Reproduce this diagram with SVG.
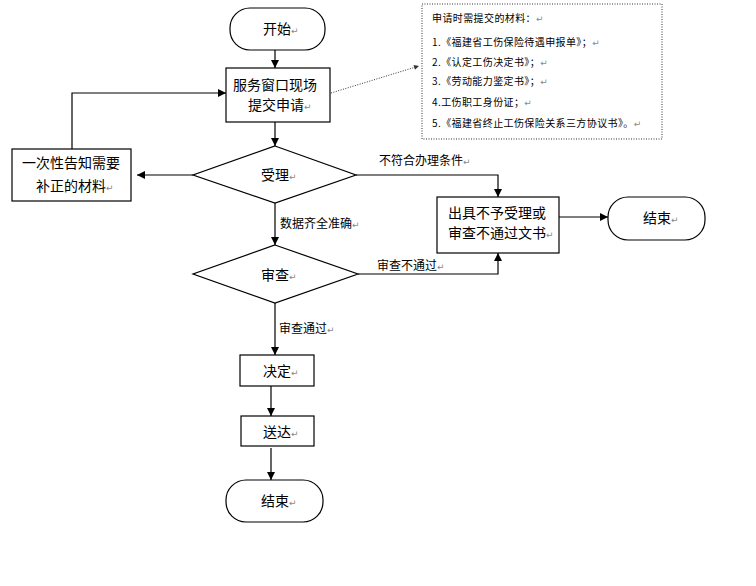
<svg xmlns="http://www.w3.org/2000/svg" width="756" height="586" viewBox="0 0 756 586">
<defs>
<marker id="ah" viewBox="0 0 10 10" refX="10" refY="5" markerWidth="9" markerHeight="8" markerUnits="userSpaceOnUse" orient="auto">
<path d="M0,0 L10,5 L0,10 z" fill="#000"/>
</marker>
<marker id="ahs" viewBox="0 0 10 10" refX="10" refY="5" markerWidth="6" markerHeight="5" markerUnits="userSpaceOnUse" orient="auto">
<path d="M0,0 L10,5 L0,10 z" fill="#333"/>
</marker>
</defs>
<style>
.shape{fill:#fff;stroke:#000;stroke-width:1.2}
.t{font-family:"Noto Sans CJK SC","Noto Sans CJK JP",sans-serif;font-size:14px;fill:#000}
.l{font-family:"Noto Sans CJK SC","Noto Sans CJK JP",sans-serif;font-size:12px;fill:#000}
.s{font-family:"Noto Sans CJK SC","Noto Sans CJK JP",sans-serif;font-size:10px;letter-spacing:0.4px;fill:#000}
.r{font-family:"DejaVu Sans",sans-serif;font-size:9px;letter-spacing:0;fill:#888}
.c{fill:none;stroke:#000;stroke-width:1.2}
.d{fill:none;stroke:#333;stroke-width:1;stroke-dasharray:1,1.5}
</style>
<rect width="756" height="586" fill="#fff"/>
<g id="connectors">
<line class="c" x1="275" y1="50" x2="275" y2="68" marker-end="url(#ah)"/>
<line class="c" x1="275" y1="122" x2="275" y2="146" marker-end="url(#ah)"/>
<line class="c" x1="193" y1="175" x2="137" y2="175" marker-end="url(#ah)"/>
<polyline class="c" points="72,149 72,93 226,93" marker-end="url(#ah)"/>
<polyline class="c" points="356,175 498,175 498,197" marker-end="url(#ah)"/>
<line class="c" x1="275" y1="203" x2="275" y2="245" marker-end="url(#ah)"/>
<polyline class="c" points="358,274 498,274 498,253" marker-end="url(#ah)"/>
<line class="c" x1="559" y1="217" x2="608" y2="217" marker-end="url(#ah)"/>
<line class="c" x1="275" y1="303" x2="275" y2="355" marker-end="url(#ah)"/>
<line class="c" x1="271" y1="386" x2="271" y2="416" marker-end="url(#ah)"/>
<line class="c" x1="271" y1="448" x2="271" y2="480" marker-end="url(#ah)"/>
<line class="d" x1="331" y1="93" x2="419" y2="66" marker-end="url(#ahs)"/>
<text class="l" x="379" y="165">不符合办理条件<tspan class="r">↵</tspan></text>
<text class="l" x="280" y="228">数据齐全准确<tspan class="r">↵</tspan></text>
<text class="l" x="377" y="270">审查不通过<tspan class="r">↵</tspan></text>
<text class="l" x="279" y="333">审查通过<tspan class="r">↵</tspan></text>
</g>
<g id="start">
<rect class="shape" x="230" y="8" width="95" height="42" rx="20" ry="20"/>
<text class="t" x="263" y="34">开始<tspan class="r">↵</tspan></text>
</g>
<g id="submit">
<rect class="shape" x="226" y="68" width="104" height="54"/>
<text class="t" x="233" y="90">服务窗口现场</text>
<text class="t" x="248" y="110">提交申请<tspan class="r">↵</tspan></text>
</g>
<g id="materials">
<rect x="422" y="4" width="240" height="135" fill="#fff" stroke="#333" stroke-width="1" stroke-dasharray="1,1.5"/>
<text class="s" x="432" y="22">申请时需提交的材料：<tspan class="r">↵</tspan></text>
<text class="s" x="432" y="46">1.《福建省工伤保险待遇申报单》；<tspan class="r">↵</tspan></text>
<text class="s" x="432" y="66">2.《认定工伤决定书》；<tspan class="r">↵</tspan></text>
<text class="s" x="432" y="85">3.《劳动能力鉴定书》；<tspan class="r">↵</tspan></text>
<text class="s" x="432" y="106">4.工伤职工身份证；<tspan class="r">↵</tspan></text>
<text class="s" x="432" y="127">5.《福建省终止工伤保险关系三方协议书》。<tspan class="r">↵</tspan></text>
</g>
<g id="notify">
<rect class="shape" x="12" y="149" width="119" height="52"/>
<text class="t" x="22" y="168">一次性告知需要</text>
<text class="t" x="36" y="191">补正的材料<tspan class="r">↵</tspan></text>
</g>
<g id="accept">
<polygon class="shape" points="275,146 356,175 275,203 193,175"/>
<text class="t" x="261" y="180">受理<tspan class="r">↵</tspan></text>
</g>
<g id="review">
<polygon class="shape" points="275,245 358,274 275,303 193,274"/>
<text class="t" x="261" y="280">审查<tspan class="r">↵</tspan></text>
</g>
<g id="reject">
<rect class="shape" x="437" y="197" width="122" height="56"/>
<text class="t" x="448" y="218">出具不予受理或</text>
<text class="t" x="448" y="238">审查不通过文书<tspan class="r">↵</tspan></text>
</g>
<g id="end-right">
<rect class="shape" x="608" y="197" width="97" height="43" rx="20" ry="20"/>
<text class="t" x="643" y="223">结束<tspan class="r">↵</tspan></text>
</g>
<g id="decide">
<rect class="shape" x="240" y="355" width="74" height="31"/>
<text class="t" x="263" y="376">决定<tspan class="r">↵</tspan></text>
</g>
<g id="deliver">
<rect class="shape" x="241" y="416" width="73" height="30"/>
<text class="t" x="263" y="437">送达<tspan class="r">↵</tspan></text>
</g>
<g id="end-bottom">
<rect class="shape" x="226" y="480" width="97" height="42" rx="20" ry="20"/>
<text class="t" x="261" y="506">结束<tspan class="r">↵</tspan></text>
</g>
</svg>
